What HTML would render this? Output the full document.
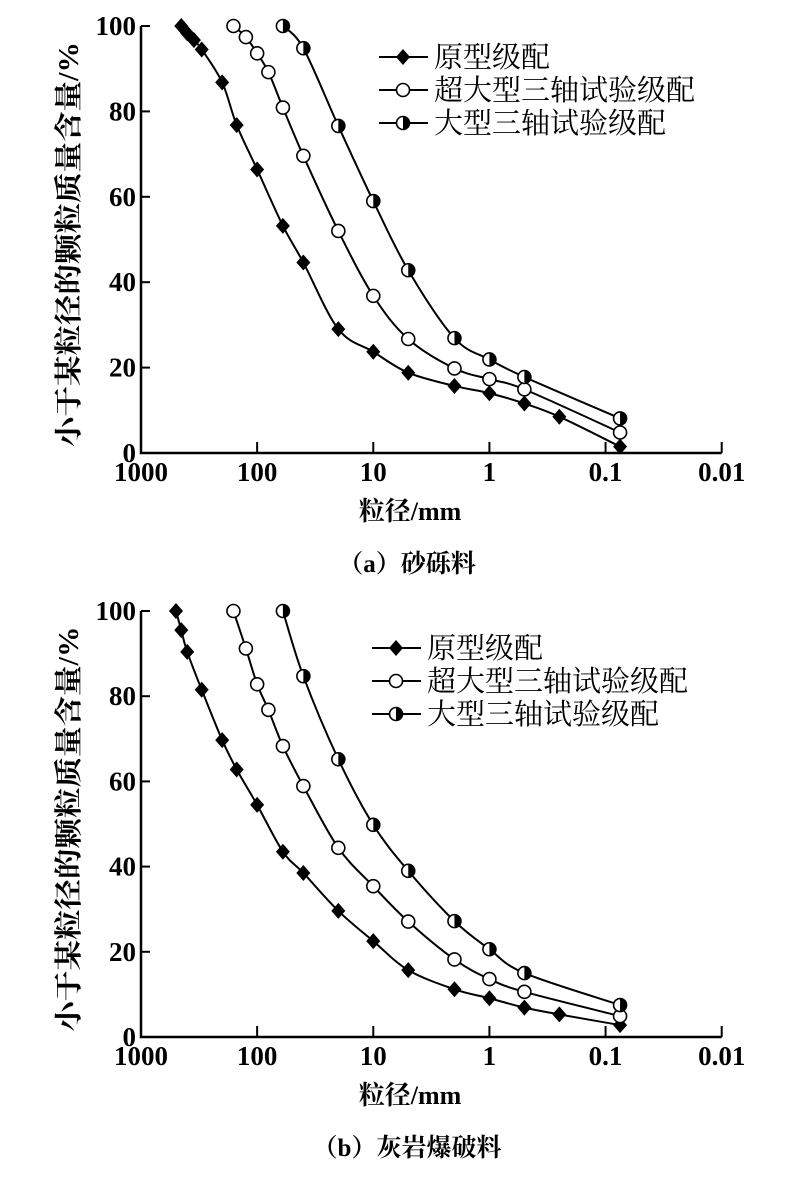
<!DOCTYPE html>
<html><head><meta charset="utf-8">
<style>
html,body{margin:0;padding:0;background:#fff;}
svg{display:block;}
text{font-family:"Liberation Serif","Noto Serif CJK SC",serif;fill:#000;}
.tick{font-size:27px;font-weight:bold;}
.cjk{font-family:"Liberation Serif","Noto Serif CJK SC","Noto Sans CJK SC",serif;}
</style></head>
<body>
<svg id="svg" width="793" height="1188" viewBox="0 0 793 1188" xmlns="http://www.w3.org/2000/svg"></svg>
<script>
const xTickValues = [1000, 100, 10, 1, 0.1, 0.01];
const xTickLabels = ["1000", "100", "10", "1", "0.1", "0.01"];
const yTickValues = [0, 20, 40, 60, 80, 100];
const seriesNames = ["原型级配", "超大型三轴试验级配", "大型三轴试验级配"];

// Panel (a) 砂砾料
const aProtoX = [450, 400, 350, 300, 200, 150, 100, 60, 40, 20, 10, 5, 2, 1, 0.5, 0.25, 0.075];
const aProtoY = [100, 98.3, 96.7, 94.5, 86.8, 76.8, 66.4, 53.2, 44.6, 29.0, 23.7, 18.8, 15.7, 14.0, 11.6, 8.5, 1.5];
const aSuperX = [160, 125, 100, 80, 60, 40, 20, 10, 5, 2, 1, 0.5, 0.075];
const aSuperY = [100, 97.4, 93.6, 89.2, 80.9, 69.6, 52.0, 36.8, 26.7, 19.8, 17.3, 14.9, 4.8];
const aLargeX = [60, 40, 20, 10, 5, 2, 1, 0.5, 0.075];
const aLargeY = [100, 94.8, 76.6, 59.0, 42.8, 26.9, 21.9, 17.8, 8.1];

// Panel (b) 灰岩爆破料
const bProtoX = [500, 450, 400, 300, 200, 150, 100, 60, 40, 20, 10, 5, 2, 1, 0.5, 0.25, 0.075];
const bProtoY = [100, 95.5, 90.4, 81.5, 69.7, 62.8, 54.5, 43.5, 38.5, 29.6, 22.5, 15.7, 11.2, 9.1, 6.9, 5.3, 2.8];
const bSuperX = [160, 125, 100, 80, 60, 40, 20, 10, 5, 2, 1, 0.5, 0.075];
const bSuperY = [100, 91.2, 82.8, 76.8, 68.3, 58.9, 44.4, 35.4, 27.1, 18.2, 13.6, 10.6, 4.9];
const bLargeX = [60, 40, 20, 10, 5, 2, 1, 0.5, 0.075];
const bLargeY = [100, 84.7, 65.2, 49.8, 39.0, 27.2, 20.6, 15.0, 7.5];

const NS = "http://www.w3.org/2000/svg";
const svg = document.getElementById("svg");
function el(tag, attrs, parent) {
  const e = document.createElementNS(NS, tag);
  for (const k in attrs) e.setAttribute(k, attrs[k]);
  (parent || svg).appendChild(e);
  return e;
}

function panel(cfg) {
  const g = el("g", {});
  
  
  const X0 = 141, X1 = 721.7, Y0 = cfg.y0, Y100 = cfg.y100;
  const sx = v => X0 + (3 - Math.log10(v)) * (X1 - X0) / 5;
  const sy = v => Y0 - v * (Y0 - Y100) / 100;

  const ax = el("path", {d:`M${X0},${Y100} L${X0},${Y0} L${X1},${Y0}`, fill:"none", stroke:"#000", "stroke-width":2.5}, g);
  
  
  xTickValues.forEach((v, i) => {
    const x = sx(v);
    const t = el("line", {x1:x, y1:Y0, x2:x, y2:Y0-11, stroke:"#000", "stroke-width":2}, g);
    
    
    const lb = el("text", {x:x, y:Y0+28, "text-anchor":"middle", class:"tick"}, g);
    lb.textContent = xTickLabels[i];
    
    
  });
  yTickValues.forEach(v => {
    const y = sy(v);
    const t = el("line", {x1:X0, y1:y, x2:X0+9, y2:y, stroke:"#000", "stroke-width":2}, g);
    
    
    const lb = el("text", {x:X0-5, y:y+9, "text-anchor":"end", class:"tick"}, g);
    lb.textContent = String(v);
    
    
  });

  const yt = el("text", {x:0, y:0, "text-anchor":"middle", class:"cjk", "font-size":28, "font-weight":"bold",
    textLength:405, lengthAdjust:"spacingAndGlyphs",
    transform:`translate(78,${(Y0+Y100)/2+5}) rotate(-90)`}, g);
  yt.textContent = "小于某粒径的颗粒质量含量/%";
  
  
  const xt = el("text", {x:410, y:Y0+67, "text-anchor":"middle", class:"cjk", "font-size":26, "font-weight":"bold"}, g);
  xt.textContent = "粒径/mm";
  
  
  const cp = el("text", {x:407, y:Y0+119, "text-anchor":"middle", class:"cjk", "font-size":25, "font-weight":"bold"}, g);
  cp.textContent = cfg.caption;
  
  

  const series = [[cfg.px, cfg.py, "diamond"], [cfg.sxv, cfg.syv, "circle"], [cfg.lx, cfg.ly, "half"]];
  series.forEach(([xs, ys, kind]) => {
    const pts = xs.map((v, i) => [sx(v), sy(ys[i])]);
    let d = `M${pts[0][0]},${pts[0][1]}`;
    for (let i = 0; i < pts.length - 1; i++) {
      const p0 = pts[Math.max(0, i-1)], p1 = pts[i], p2 = pts[i+1], p3 = pts[Math.min(pts.length-1, i+2)];
      const c1 = [p1[0] + (p2[0]-p0[0])/6, p1[1] + (p2[1]-p0[1])/6];
      const c2 = [p2[0] - (p3[0]-p1[0])/6, p2[1] - (p3[1]-p1[1])/6];
      d += ` C${c1[0]},${c1[1]} ${c2[0]},${c2[1]} ${p2[0]},${p2[1]}`;
    }
    const ln = el("path", {d, fill:"none", stroke:"#000", "stroke-width":2}, g);
    
    
    pts.forEach(p => {
      const m = marker(g, kind, p[0], p[1]);
      
      
    });
  });

  cfg.legendY.forEach((ly, i) => {
    const lg = el("g", {}, g);
    
    
    el("line", {x1:cfg.legX, y1:ly, x2:cfg.legX+49, y2:ly, stroke:"#000", "stroke-width":2}, lg);
    marker(lg, ["diamond","circle","half"][i], cfg.legX+24, ly);
    const tx = el("text", {x:cfg.legX+55, y:ly+10, class:"cjk", "font-size":29}, lg);
    tx.textContent = seriesNames[i];
  });
}

function marker(parent, kind, x, y) {
  const g = el("g", {}, parent);
  if (kind === "diamond") {
    el("path", {d:`M${x},${y-8} L${x+7},${y} L${x},${y+8} L${x-7},${y} Z`, fill:"#000"}, g);
  } else if (kind === "circle") {
    el("circle", {cx:x, cy:y, r:6.5, fill:"#fff", stroke:"#000", "stroke-width":1.6}, g);
  } else {
    el("circle", {cx:x, cy:y, r:6.5, fill:"#fff", stroke:"#000", "stroke-width":1.6}, g);
    el("path", {d:`M${x},${y-6.5} A6.5,6.5 0 0 1 ${x},${y+6.5} Z`, fill:"#000"}, g);
  }
  return g;
}

panel({name:"chart-a-sand-gravel", y0:453, y100:26, caption:"（a）砂砾料",
  px:aProtoX, py:aProtoY, sxv:aSuperX, syv:aSuperY, lx:aLargeX, ly:aLargeY,
  legX:379, legendY:[57, 90, 123]});
panel({name:"chart-b-limestone-blasting", y0:1037, y100:611, caption:"（b）灰岩爆破料",
  px:bProtoX, py:bProtoY, sxv:bSuperX, syv:bSuperY, lx:bLargeX, ly:bLargeY,
  legX:372, legendY:[648, 681, 714]});
</script>
</body></html>
